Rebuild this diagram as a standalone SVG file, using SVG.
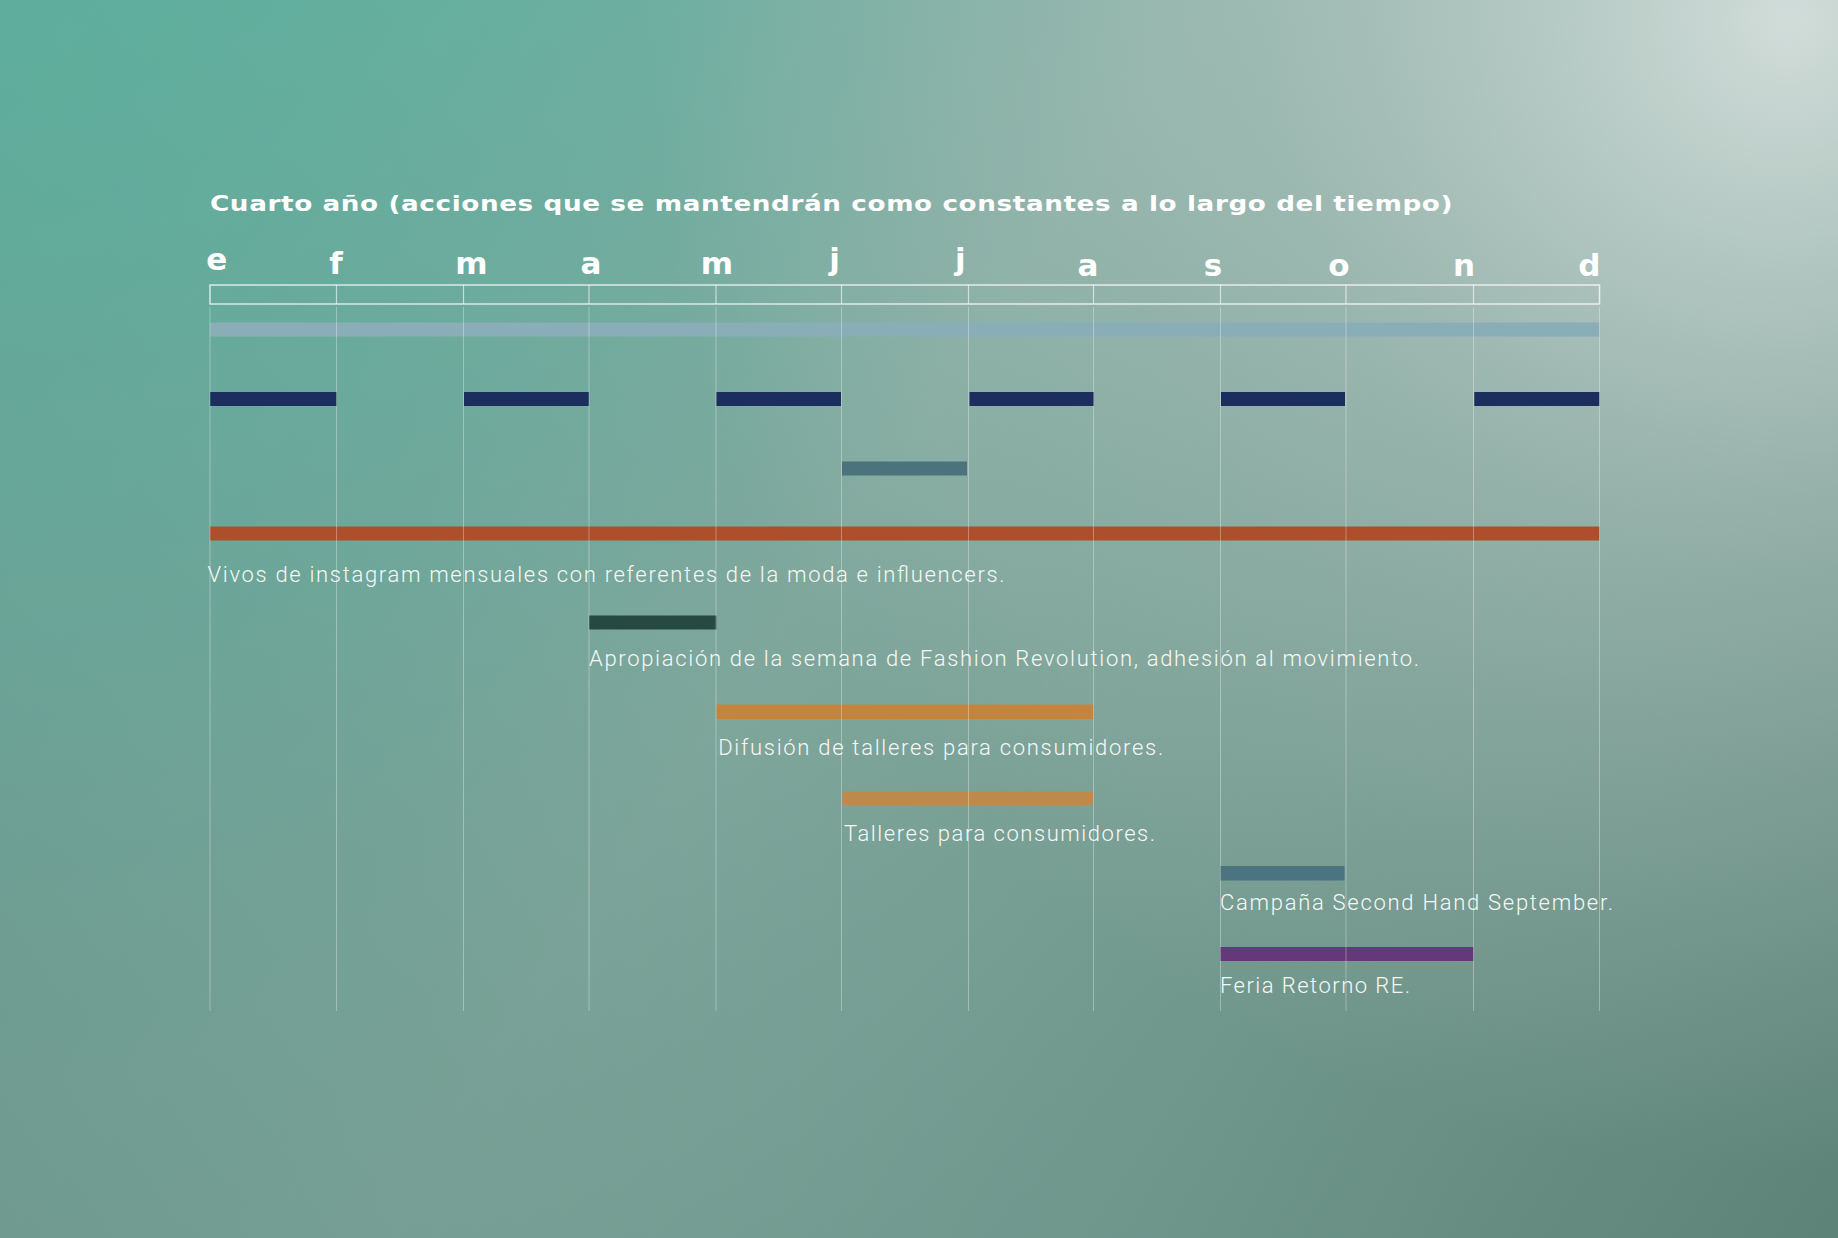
<svg xmlns="http://www.w3.org/2000/svg" width="1838" height="1238" viewBox="0 0 1838 1238">
  <defs>
    <linearGradient id="bg" x1="0" y1="0" x2="1838" y2="1238" gradientUnits="userSpaceOnUse">
      <stop offset="0" stop-color="#5bb3a1"/>
      <stop offset="0.45" stop-color="#82aa9f"/>
      <stop offset="1" stop-color="#5d8378"/>
    </linearGradient>
    <linearGradient id="bl" x1="1838" y1="0" x2="0" y2="1238" gradientUnits="userSpaceOnUse">
      <stop offset="0" stop-color="#6f978d" stop-opacity="0"/>
      <stop offset="0.45" stop-color="#6f978d" stop-opacity="0"/>
      <stop offset="1" stop-color="#6f978d" stop-opacity="0.85"/>
    </linearGradient>
    <radialGradient id="hi" cx="1790" cy="20" r="1150" gradientUnits="userSpaceOnUse">
      <stop offset="0" stop-color="#d6e0dd" stop-opacity="0.95"/>
      <stop offset="0.45" stop-color="#c3d2ce" stop-opacity="0.45"/>
      <stop offset="1" stop-color="#b4c6c1" stop-opacity="0"/>
    </radialGradient>
    <radialGradient id="tl" cx="0" cy="0" r="900" gradientUnits="userSpaceOnUse">
      <stop offset="0" stop-color="#5bb3a1" stop-opacity="0.5"/>
      <stop offset="1" stop-color="#5bb3a1" stop-opacity="0"/>
    </radialGradient>
  </defs>
  <style>
    .title { font-family: "DejaVu Sans", "Liberation Sans", sans-serif; font-weight: bold; font-size: 22px; fill: #ffffff; letter-spacing: 0.5px; }
    .month { font-family: "DejaVu Sans", "Liberation Sans", sans-serif; font-weight: bold; font-size: 31px; fill: #ffffff; text-anchor: middle; }
    .lbl { font-family: Roboto, "Liberation Sans", sans-serif; font-weight: 300; font-size: 22px; fill: #f6f8f7; }
    .grid line { stroke: #ffffff; stroke-opacity: 0.32; stroke-width: 1; }
    .hdr { fill: none; stroke: #ffffff; stroke-opacity: 0.75; stroke-width: 1.5; }
    .hdrdiv line { stroke: #ffffff; stroke-opacity: 0.6; stroke-width: 1.2; }
  </style>

  <rect x="0" y="0" width="1838" height="1238" fill="url(#bg)"/>
  <rect x="0" y="0" width="1838" height="1238" fill="url(#bl)"/>
  <rect x="0" y="0" width="1838" height="1238" fill="url(#tl)"/>
  <rect x="0" y="0" width="1838" height="1238" fill="url(#hi)"/>

  <text id="title" class="title" x="210" y="211" textLength="1243" lengthAdjust="spacingAndGlyphs">Cuarto año (acciones que se mantendrán como constantes a lo largo del tiempo)</text>

  <g id="months">
    <text class="month" x="216.7" y="269.5">e</text>
    <text class="month" x="336" y="274.3">f</text>
    <text class="month" x="471.5" y="274.3">m</text>
    <text class="month" x="591" y="274.3">a</text>
    <text class="month" x="717" y="274.3">m</text>
    <text class="month" x="834.5" y="270">j</text>
    <text class="month" x="960.3" y="270">j</text>
    <text class="month" x="1088" y="275.7">a</text>
    <text class="month" x="1213" y="275.7">s</text>
    <text class="month" x="1339" y="275.7">o</text>
    <text class="month" x="1464" y="275.7">n</text>
    <text class="month" x="1589.3" y="275.7">d</text>
  </g>

  <g id="header">
    <rect class="hdr" x="210" y="285" width="1389.5" height="19"/>
    <g class="hdrdiv">
      <line x1="336.5" y1="285" x2="336.5" y2="304"/>
      <line x1="463.5" y1="285" x2="463.5" y2="304"/>
      <line x1="589" y1="285" x2="589" y2="304"/>
      <line x1="716" y1="285" x2="716" y2="304"/>
      <line x1="841.5" y1="285" x2="841.5" y2="304"/>
      <line x1="968.5" y1="285" x2="968.5" y2="304" stroke-width="2"/>
      <line x1="1093.5" y1="285" x2="1093.5" y2="304"/>
      <line x1="1220.5" y1="285" x2="1220.5" y2="304"/>
      <line x1="1346" y1="285" x2="1346" y2="304"/>
      <line x1="1473.5" y1="285" x2="1473.5" y2="304"/>
    </g>
  </g>

  <g id="bar-constante">
    <rect x="210" y="322.5" width="1389.5" height="14" fill="#8aaeb7"/>
  </g>

  <g id="bar-mensual">
    <rect x="210" y="392" width="126.7" height="14" fill="#1b2e5d"/>
    <rect x="464" y="392" width="125" height="14" fill="#1b2e5d"/>
    <rect x="716.3" y="392" width="124.7" height="14" fill="#1b2e5d"/>
    <rect x="969.5" y="392" width="124.5" height="14" fill="#1b2e5d"/>
    <rect x="1221" y="392" width="124" height="14" fill="#1b2e5d"/>
    <rect x="1474.3" y="392" width="125.2" height="14" fill="#1b2e5d"/>
  </g>

  <g id="bar-junio">
    <rect x="842" y="461.5" width="125" height="14" fill="#4b737c"/>
  </g>

  <g id="node-vivos">
    <rect x="210" y="526.5" width="1389.5" height="14" fill="#ad4f2a"/>
    <text class="lbl" x="207.6" y="581.5" textLength="797" lengthAdjust="spacing">Vivos de instagram mensuales con referentes de la moda e influencers.</text>
  </g>

  <g id="node-fashion-revolution">
    <rect x="589" y="615.5" width="127.5" height="14" fill="#264a40"/>
    <text class="lbl" x="589" y="665.5" textLength="830" lengthAdjust="spacing">Apropiación de la semana de Fashion Revolution, adhesión al movimiento.</text>
  </g>

  <g id="node-difusion">
    <rect x="716.5" y="704.5" width="377" height="14.5" fill="#c5843e"/>
    <text class="lbl" x="718.2" y="755" textLength="445" lengthAdjust="spacing">Difusión de talleres para consumidores.</text>
  </g>

  <g id="node-talleres">
    <rect x="842.5" y="791.5" width="250.5" height="13.5" fill="#bd894c"/>
    <text class="lbl" x="844" y="840.5" textLength="311" lengthAdjust="spacing">Talleres para consumidores.</text>
  </g>

  <g id="node-second-hand">
    <rect x="1220" y="866" width="124.5" height="14.5" fill="#4b7480"/>
    <text class="lbl" x="1220" y="910" textLength="393" lengthAdjust="spacing">Campaña Second Hand September.</text>
  </g>

  <g id="node-feria">
    <rect x="1220" y="947" width="253.5" height="14" fill="#65387a"/>
    <text class="lbl" x="1220" y="992.5" textLength="190" lengthAdjust="spacing">Feria Retorno RE.</text>
  </g>

  <g id="connectors" class="grid">
    <line x1="210" y1="307" x2="210" y2="1011"/>
    <line x1="336.5" y1="307" x2="336.5" y2="1011"/>
    <line x1="463.5" y1="307" x2="463.5" y2="1011"/>
    <line x1="589" y1="307" x2="589" y2="1011"/>
    <line x1="716" y1="307" x2="716" y2="1011"/>
    <line x1="841.5" y1="307" x2="841.5" y2="1011"/>
    <line x1="968.5" y1="307" x2="968.5" y2="1011"/>
    <line x1="1093.5" y1="307" x2="1093.5" y2="1011"/>
    <line x1="1220.5" y1="307" x2="1220.5" y2="1011"/>
    <line x1="1346" y1="307" x2="1346" y2="1011"/>
    <line x1="1473.5" y1="307" x2="1473.5" y2="1011"/>
    <line x1="1599.5" y1="307" x2="1599.5" y2="1011"/>
  </g>
</svg>
